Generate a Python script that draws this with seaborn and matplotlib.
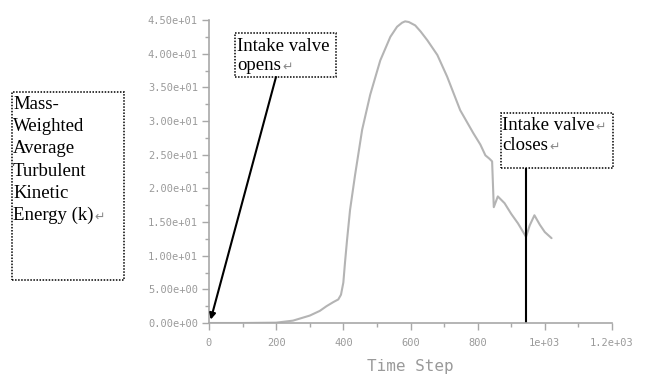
import numpy as np
import pandas as pd
import matplotlib
matplotlib.use("Agg")
import matplotlib.pyplot as plt
import seaborn as sns
from matplotlib.patches import Rectangle
from matplotlib.ticker import MultipleLocator

# data
time_step = [0, 100, 200, 250, 300, 330, 350, 370, 385, 393, 400, 405, 411, 420, 435,
             456, 480, 510, 540, 560, 575, 584, 595, 614, 630, 650, 680, 709, 748, 787,
             808, 823, 835, 843, 848, 860, 880, 900, 920, 944, 955, 969, 985, 1000, 1020]
tke = [0.0, 0.0, 0.05, 0.35, 1.1, 1.8, 2.5, 3.1, 3.5, 4.2, 6.0, 9.0, 12.3, 16.8, 22.0,
       28.7, 33.9, 39.0, 42.5, 44.0, 44.6, 44.8, 44.7, 44.2, 43.3, 42.0, 39.8, 36.6, 31.6, 28.2,
       26.5, 24.9, 24.4, 24.0, 17.2, 18.8, 17.8, 16.2, 14.8, 12.8, 14.5, 16.0, 14.6, 13.5, 12.6]
xticks = [0, 200, 400, 600, 800, 1000, 1200]
xtick_labels = ["0", "200", "400", "600", "800", "1e+03", "1.2e+03"]
yticks = [0, 5, 10, 15, 20, 25, 30, 35, 40, 45]
opens_step, opens_k = 5, 0.5
closes_step, closes_k_top = 944, 23.0

df = pd.DataFrame({"Time Step": time_step, "k": tke})

W, H = 646, 374
sns.set_style("ticks")
fig = plt.figure(figsize=(W / 100, H / 100), dpi=100)
ax = fig.add_axes([209 / W, 1 - 323 / H, (612 - 209) / W, (323 - 20) / H])

sns.lineplot(data=df, x="Time Step", y="k", ax=ax, color="#b4b4b4", lw=1.5)

ax.set_xlim(0, 1200)
ax.set_ylim(0, 45)
ax.set_xticks(xticks)
ax.set_xticklabels(xtick_labels)
ax.set_yticks(yticks)
ax.set_yticklabels(["%.2e" % v for v in yticks])
ax.xaxis.set_minor_locator(MultipleLocator(100))
ax.yaxis.set_minor_locator(MultipleLocator(2.5))
grey = "#a8a8a8"
for s in ["top", "right"]:
    ax.spines[s].set_visible(False)
for s in ["left", "bottom"]:
    ax.spines[s].set_color(grey)
    ax.spines[s].set_linewidth(1.2)
ax.tick_params(which="major", length=5, width=1, color=grey, labelcolor="#9a9a9a",
               labelsize=7.5, pad=3)
ax.tick_params(axis="x", which="major", pad=6)
ax.tick_params(which="minor", length=3, width=1, color=grey)
for lab in ax.get_xticklabels() + ax.get_yticklabels():
    lab.set_fontfamily("DejaVu Sans Mono")
ax.set_xlabel("Time Step", fontsize=11.5, color="#9a9a9a", family="DejaVu Sans Mono", labelpad=8)
ax.set_ylabel("")

# annotations
ax.vlines(closes_step, 0, closes_k_top, color="black", lw=1.5)
ax.annotate("", xy=(opens_step, opens_k), xycoords="data",
            xytext=(276 / W, 1 - 77 / H), textcoords="figure fraction",
            arrowprops=dict(arrowstyle="-|>", color="black", lw=1.5, mutation_scale=9,
                            shrinkA=0, shrinkB=0))


def box(x0, y0, x1, y1):
    fig.add_artist(Rectangle((x0 / W, 1 - y1 / H), (x1 - x0) / W, (y1 - y0) / H,
                             transform=fig.transFigure, fill=False, ec="black",
                             lw=1.1, ls=(0, (1, 1))))


def line(x, y, s, mark=False):
    t = fig.text(x / W, 1 - y / H, s, fontsize=13.5, family="Liberation Serif",
                 color="black", va="baseline", ha="left")
    if mark:
        ax.annotate("\u21b5", xy=(1, 0), xycoords=t, xytext=(1, 0),
                    textcoords="offset points", fontsize=9, family="DejaVu Sans",
                    color="#8a8a8a", va="bottom", ha="left", annotation_clip=False)
    return t


box(235, 33, 336, 77)
line(237, 51, "Intake valve")
line(237, 70, "opens", mark=True)

box(501, 113, 613, 168)
line(502, 130, "Intake valve", mark=True)
line(502, 150, "closes", mark=True)

box(12, 92, 124, 280)
for i, s in enumerate(["Mass-", "Weighted", "Average", "Turbulent", "Kinetic", "Energy (k)"]):
    line(13, 109 + 22.2 * i, s, mark=(i == 5))

fig.savefig("out.png", dpi=100)
